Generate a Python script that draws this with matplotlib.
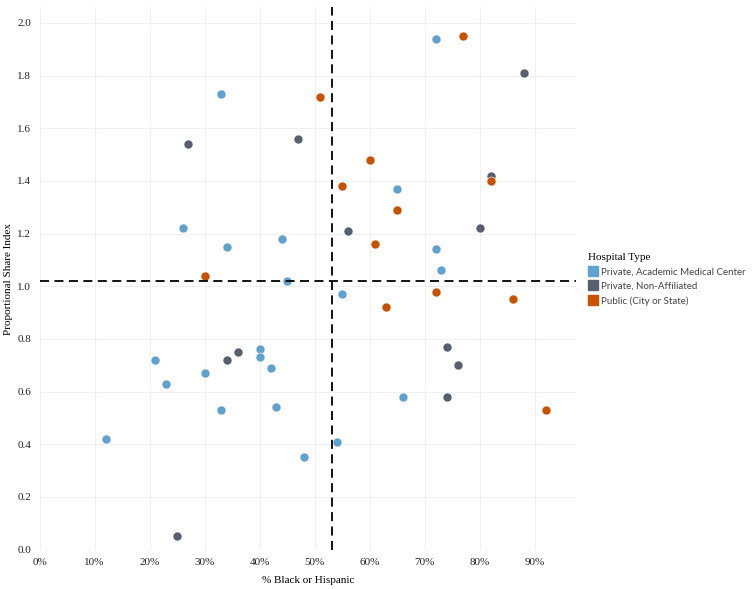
import matplotlib
matplotlib.use("Agg")
import matplotlib.pyplot as plt
from matplotlib.lines import Line2D
from matplotlib.ticker import FuncFormatter, MultipleLocator

# hospital groups: % black or hispanic (x) and proportional share index (y)
academic_x = [33, 26, 34, 44, 45, 55, 72, 65, 72, 73, 66, 21, 40, 40, 42, 23, 30, 33, 43, 12, 54, 48]
academic_y = [1.73, 1.22, 1.15, 1.18, 1.02, 0.97, 1.94, 1.37, 1.14, 1.06, 0.58, 0.72, 0.76, 0.73, 0.69,
              0.63, 0.67, 0.53, 0.54, 0.42, 0.41, 0.35]

nonaff_x = [27, 47, 56, 88, 82, 80, 74, 76, 74, 34, 36, 25]
nonaff_y = [1.54, 1.56, 1.21, 1.81, 1.42, 1.22, 0.77, 0.70, 0.58, 0.72, 0.75, 0.05]

public_x = [51, 60, 55, 61, 30, 77, 82, 65, 72, 86, 63, 92]
public_y = [1.72, 1.48, 1.38, 1.16, 1.04, 1.95, 1.40, 1.29, 0.98, 0.95, 0.92, 0.53]

group_names = ["Private, Academic Medical Center", "Private, Non-Affiliated", "Public (City or State)"]
group_colors = ["#5fa2ce", "#57606c", "#c85200"]

# reference lines (averages)
avg_x = 53.1
avg_y = 1.02

serif = "Liberation Serif"
sans = "Lato"

fig = plt.figure(figsize=(7.54, 5.89), dpi=100)
ax = fig.add_axes([0.0524, 0.066, 0.7116, 0.922])

groups = [(academic_x, academic_y), (nonaff_x, nonaff_y), (public_x, public_y)]
for (gx, gy), col in zip(groups, group_colors):
    ax.scatter(gx, gy, s=42, color=col, edgecolors="white", linewidths=0.4, zorder=3)

ax.axvline(avg_x, color="black", lw=1.3, ls=(0, (5, 3)), zorder=4)
ax.axhline(avg_y, color="black", lw=1.3, ls=(0, (5, 3)), zorder=4)

ax.set_xlim(0, 97.5)
ax.set_ylim(-0.002, 2.06)
ax.xaxis.set_major_locator(MultipleLocator(10))
ax.yaxis.set_major_locator(MultipleLocator(0.2))
ax.xaxis.set_major_formatter(FuncFormatter(lambda v, p: "%d%%" % round(v)))
ax.yaxis.set_major_formatter(FuncFormatter(lambda v, p: "%.1f" % v))

ax.grid(True, color="#f0f0f0", lw=0.8, zorder=0)
for s in ax.spines.values():
    s.set_visible(False)
ax.tick_params(length=0, labelsize=8, pad=6)
fig.canvas.draw()
for lab in ax.get_xticklabels() + ax.get_yticklabels():
    lab.set_fontfamily(serif)
    lab.set_color("#222222")
# edge labels are nudged inside like the original
ax.get_xticklabels()[0].set_horizontalalignment("left")
ax.get_yticklabels()[0].set_verticalalignment("bottom")

ax.set_xlabel("% Black or Hispanic", fontsize=8, fontfamily=serif, labelpad=6)
ax.set_ylabel("Proportional Share Index", fontsize=8, fontfamily=serif, labelpad=3)

handles = [Line2D([], [], marker="s", ls="none", markersize=7.5, color=c) for c in group_colors]
leg = fig.legend(handles, group_names, loc="upper left", bbox_to_anchor=(0.768, 0.585),
                 frameon=False, title="Hospital Type", alignment="left",
                 prop={"family": sans, "size": 7}, handletextpad=0.35,
                 labelspacing=0.55, handlelength=1.0)
leg.get_title().set_fontfamily(serif)
leg.get_title().set_fontsize(8)
for t in leg.get_texts():
    t.set_color("#444444")

fig.savefig("out.png", dpi=100)
